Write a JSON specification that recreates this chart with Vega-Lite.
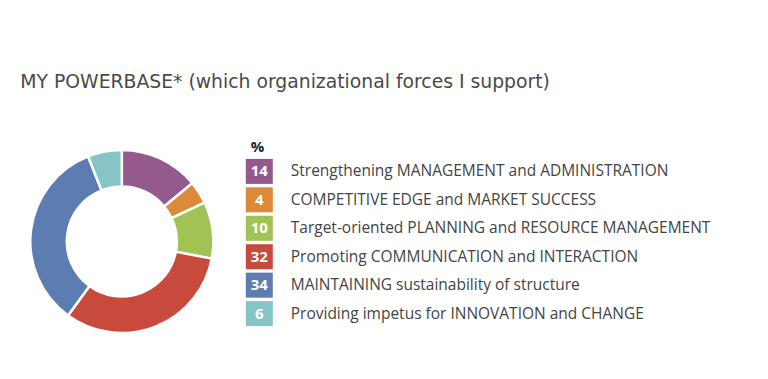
{
  "$schema": "https://vega.github.io/schema/vega-lite/v6.json",
  "background": "white",
  "padding": {"left": 19.8, "top": 72.5, "right": 0, "bottom": 0},
  "title": {"text": "MY POWERBASE* (which organizational forces I support)", "anchor": "start", "dx": -5, "fontSize": 18.8, "font": "DejaVu Sans", "fontWeight": "normal", "color": "#4a4a4a", "offset": 48},
  "data": {"values": [
    {"cat": "Strengthening MANAGEMENT and ADMINISTRATION", "pct": 14, "order": 1},
    {"cat": "COMPETITIVE EDGE and MARKET SUCCESS", "pct": 4, "order": 2},
    {"cat": "Target-oriented PLANNING and RESOURCE MANAGEMENT", "pct": 10, "order": 3},
    {"cat": "Promoting COMMUNICATION and INTERACTION", "pct": 32, "order": 4},
    {"cat": "MAINTAINING sustainability of structure", "pct": 34, "order": 5},
    {"cat": "Providing impetus for INNOVATION and CHANGE", "pct": 6, "order": 6}
  ]},
  "spacing": 32,
  "bounds": "flush",
  "hconcat": [
    {
      "width": 184,
      "height": 182,
      "mark": {"type": "arc", "outerRadius": 91.5, "innerRadius": 55, "stroke": "white", "strokeWidth": 2.5},
      "encoding": {
        "theta": {"field": "pct", "type": "quantitative", "stack": true},
        "order": {"field": "order", "type": "quantitative"},
        "color": {"field": "cat", "type": "nominal", "legend": null,
          "scale": {"domain": ["Strengthening MANAGEMENT and ADMINISTRATION", "COMPETITIVE EDGE and MARKET SUCCESS", "Target-oriented PLANNING and RESOURCE MANAGEMENT", "Promoting COMMUNICATION and INTERACTION", "MAINTAINING sustainability of structure", "Providing impetus for INNOVATION and CHANGE"],
                    "range": ["#955a8c", "#dc8a3a", "#a2c254", "#c84a3c", "#5b7db1", "#86c4c8"]}}
      }
    },
    {
      "width": 440,
      "height": 184,
      "title": {"text": "%", "anchor": "start", "dx": 5, "fontSize": 15, "font": "Open Sans", "fontWeight": "bold", "color": "#222", "offset": -4},
      "encoding": {
        "y": {"field": "cat", "type": "nominal", "axis": null,
          "sort": ["Strengthening MANAGEMENT and ADMINISTRATION", "COMPETITIVE EDGE and MARKET SUCCESS", "Target-oriented PLANNING and RESOURCE MANAGEMENT", "Promoting COMMUNICATION and INTERACTION", "MAINTAINING sustainability of structure", "Providing impetus for INNOVATION and CHANGE"],
          "scale": {"paddingInner": 0.12, "paddingOuter": 0.295}}
      },
      "layer": [
        {
          "mark": {"type": "rect"},
          "encoding": {
            "x": {"value": 0},
            "x2": {"value": 27},
            "color": {"field": "cat", "type": "nominal", "legend": null,
              "scale": {"domain": ["Strengthening MANAGEMENT and ADMINISTRATION", "COMPETITIVE EDGE and MARKET SUCCESS", "Target-oriented PLANNING and RESOURCE MANAGEMENT", "Promoting COMMUNICATION and INTERACTION", "MAINTAINING sustainability of structure", "Providing impetus for INNOVATION and CHANGE"],
                        "range": ["#955a8c", "#dc8a3a", "#a2c254", "#c84a3c", "#5b7db1", "#86c4c8"]}}
          }
        },
        {
          "mark": {"type": "text", "font": "Open Sans", "fontWeight": "bold", "fontSize": 15, "color": "white", "align": "center", "baseline": "middle"},
          "encoding": {"x": {"value": 13.5}, "text": {"field": "pct", "type": "quantitative"}}
        },
        {
          "mark": {"type": "text", "font": "Open Sans", "fontSize": 15.5, "color": "#444", "align": "left", "baseline": "middle"},
          "encoding": {"x": {"value": 45}, "text": {"field": "cat", "type": "nominal"}}
        }
      ]
    }
  ],
  "config": {"view": {"stroke": null}}
}
